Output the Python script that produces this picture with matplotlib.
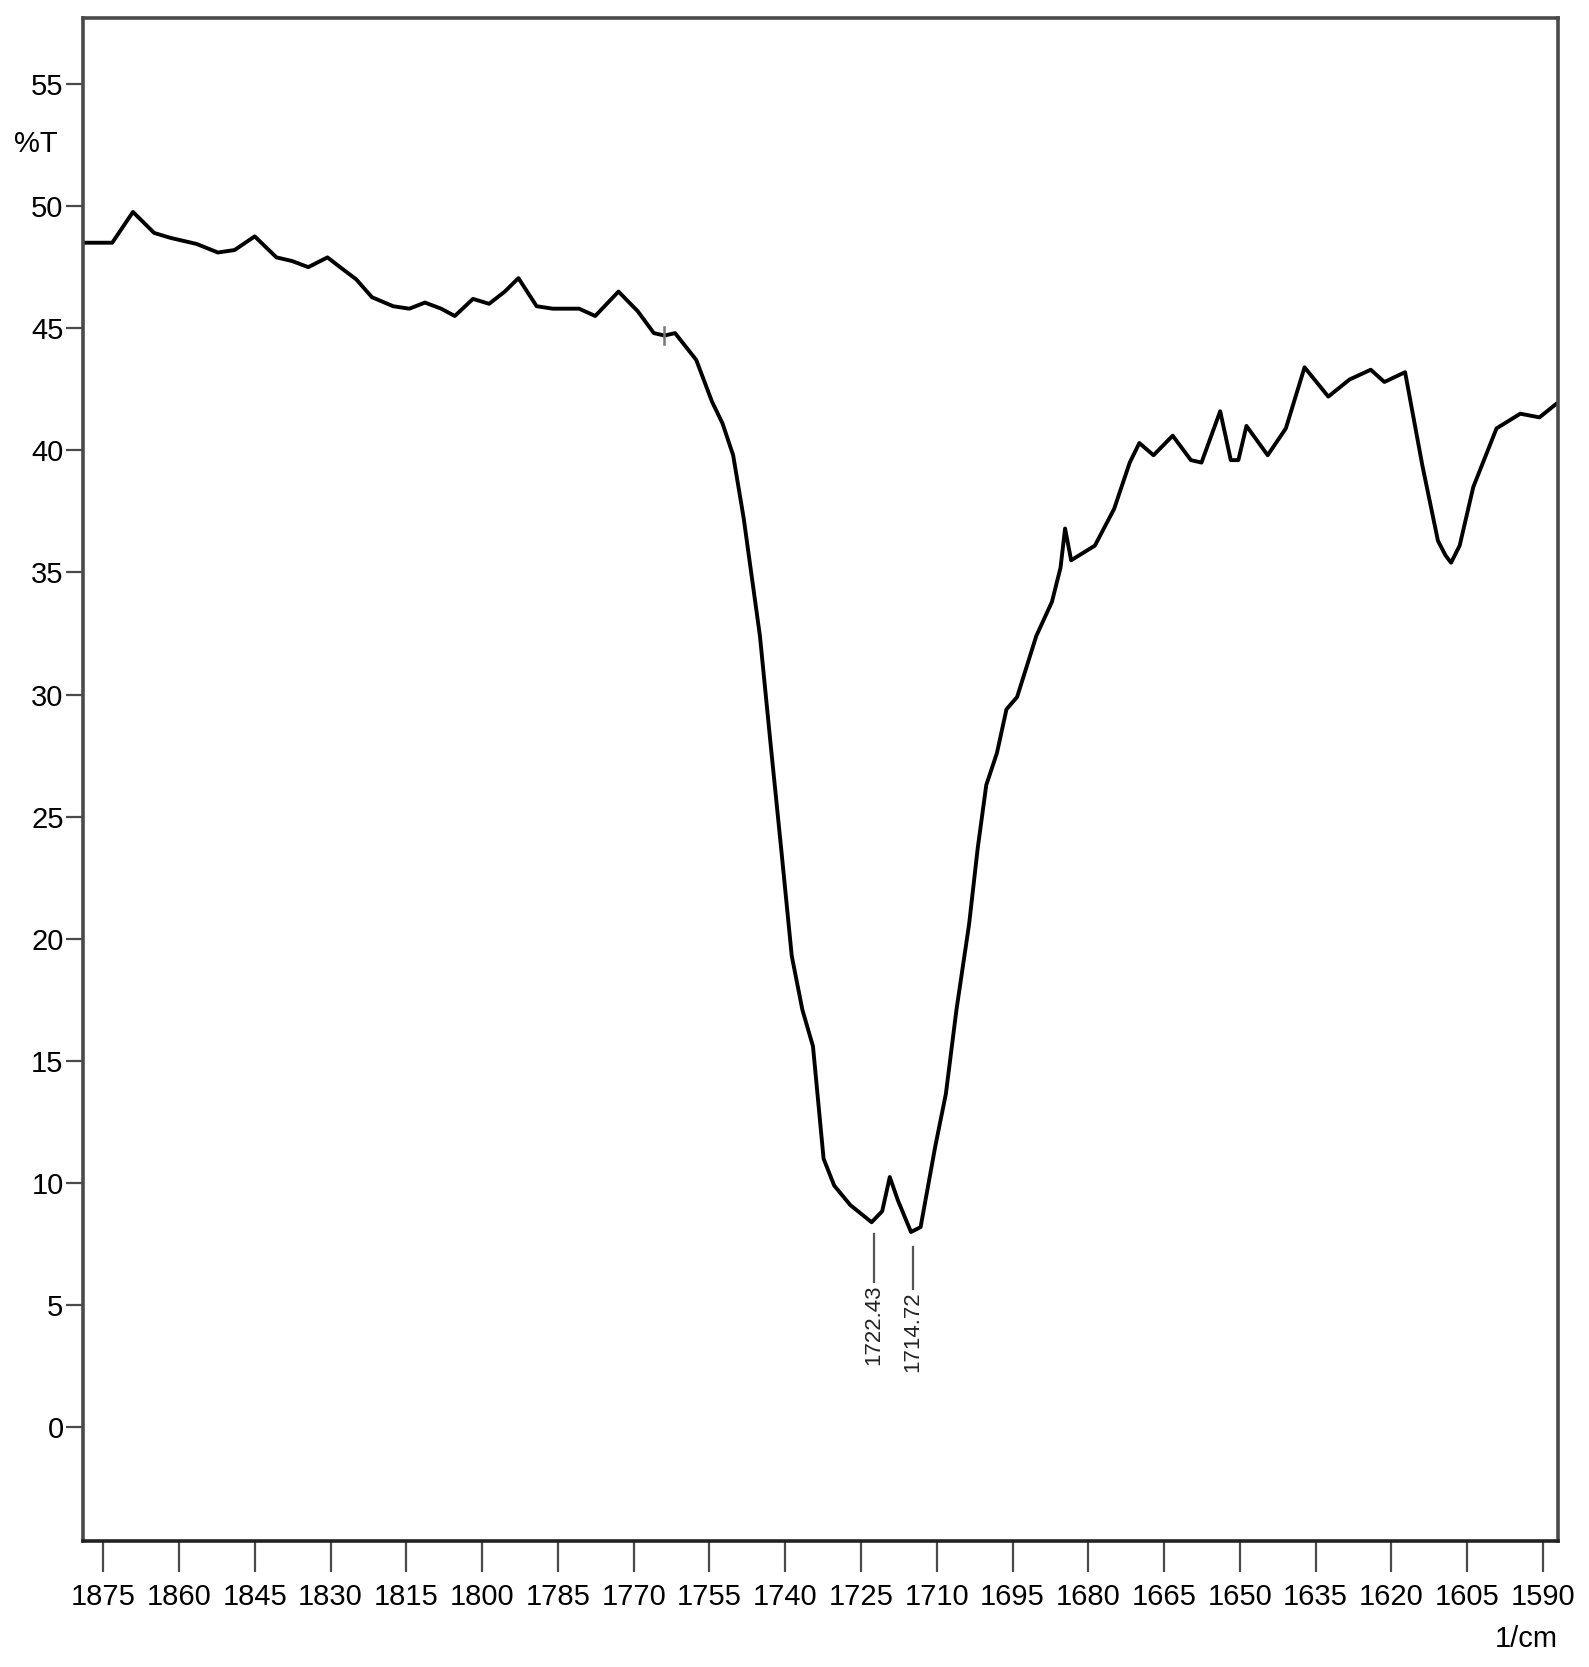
import matplotlib.pyplot as plt
import numpy as np

# IR spectrum (wavenumber 1/cm, %T)
wavenumber = [1879.0, 1873.2, 1869.1, 1864.9, 1861.7, 1856.5, 1852.3, 1849.0, 1845.0,
              1840.7, 1837.6, 1834.4, 1830.6, 1828.1, 1824.9, 1821.8, 1817.6, 1814.4,
              1811.3, 1808.1, 1805.4, 1801.8, 1798.6, 1795.5, 1792.8, 1789.2, 1786.0,
              1780.8, 1777.6, 1773.0, 1769.2, 1766.0, 1763.9, 1761.8, 1757.6, 1754.5,
              1752.4, 1750.3, 1748.2, 1745.0, 1742.9, 1740.8, 1738.7, 1736.6, 1734.5,
              1732.4, 1730.3, 1727.1, 1722.9, 1720.8, 1719.3, 1717.7, 1715.1, 1713.2,
              1710.3, 1708.2, 1706.1, 1703.6, 1701.9, 1700.2, 1698.1, 1696.2, 1694.1,
              1690.3, 1687.2, 1685.5, 1684.6, 1683.4, 1678.7, 1674.9, 1671.8, 1669.9,
              1667.1, 1663.3, 1659.7, 1657.6, 1653.9, 1651.8, 1650.3, 1648.7, 1644.5,
              1640.9, 1637.2, 1632.5, 1628.3, 1624.1, 1621.4, 1617.3, 1613.9, 1610.8,
              1609.3, 1608.2, 1606.5, 1603.8, 1599.2, 1594.5, 1590.7, 1587.4]
transmittance = [48.5, 48.5, 49.76, 48.9, 48.7, 48.45, 48.1, 48.2, 48.76,
                 47.9, 47.75, 47.5, 47.9, 47.5, 47.0, 46.27, 45.9, 45.8,
                 46.05, 45.8, 45.5, 46.2, 46.0, 46.5, 47.05, 45.9, 45.8,
                 45.8, 45.5, 46.5, 45.7, 44.8, 44.7, 44.8, 43.7, 42.0,
                 41.1, 39.8, 37.2, 32.4, 28.0, 23.7, 19.3, 17.1, 15.6,
                 11.0, 9.9, 9.1, 8.4, 8.85, 10.25, 9.3, 8.0, 8.2,
                 11.5, 13.65, 17.1, 20.6, 23.7, 26.3, 27.6, 29.4, 29.9,
                 32.4, 33.8, 35.2, 36.8, 35.5, 36.1, 37.6, 39.5, 40.3,
                 39.8, 40.6, 39.6, 39.5, 41.6, 39.6, 39.6, 41.0, 39.8,
                 40.9, 43.4, 42.2, 42.9, 43.3, 42.8, 43.2, 39.4, 36.3,
                 35.7, 35.4, 36.1, 38.5, 40.9, 41.5, 41.35, 41.9]

peak_positions = [1722.43, 1714.72]
peak_labels = ["1722.43", "1714.72"]
peak_line_top = [7.9, 7.4]
peak_line_bottom = [5.97, 5.67]

cursor_x = 1763.9
cursor_y = 44.7

x_ticks = list(range(1875, 1589, -15))
y_ticks = list(range(0, 56, 5))

tick_font = "Liberation Sans"
edge = "#4a4a4a"

fig = plt.figure(figsize=(15.89, 16.67), dpi=100)
ax = fig.add_axes([0.0522, 0.0753, 0.9284, 0.9139])

ax.plot(wavenumber, transmittance, color="black", lw=2.8, solid_joinstyle="round")
ax.plot([cursor_x, cursor_x], [cursor_y - 0.35, cursor_y + 0.35], color="#777777", lw=1.8)

for px, lab, yt, yb in zip(peak_positions, peak_labels, peak_line_top, peak_line_bottom):
    ax.plot([px, px], [yt, yb], color="#555555", lw=1.6)
    ax.text(px, yb - 0.1, lab, rotation=90, ha="center", va="top",
            fontsize=16, family=tick_font, color="#222222")

ax.set_xlim(1879, 1587)
ax.set_ylim(-4.67, 57.7)

ax.set_xticks(x_ticks)
ax.set_yticks(y_ticks)
ax.set_xticklabels([str(v) for v in x_ticks], family=tick_font, fontsize=21)
ax.set_yticklabels([str(v) for v in y_ticks], family=tick_font, fontsize=21)
ax.tick_params(axis="x", direction="out", length=22, width=1.6, color=edge, pad=8)
ax.tick_params(axis="y", direction="out", length=12, width=1.6, color=edge, pad=2)

for side in ["left", "right", "top", "bottom"]:
    ax.spines[side].set_color(edge)
    ax.spines[side].set_linewidth(2.6)
ax.spines["bottom"].set_color("#222222")

ax.text(-0.047, 52.55, "%T", transform=ax.get_yaxis_transform(), ha="left", va="center",
        family=tick_font, fontsize=21)
ax.text(1.0, -0.055, "1/cm", transform=ax.transAxes, ha="right", va="top",
        family=tick_font, fontsize=21)

fig.savefig("out.png", dpi=100, facecolor="white")
